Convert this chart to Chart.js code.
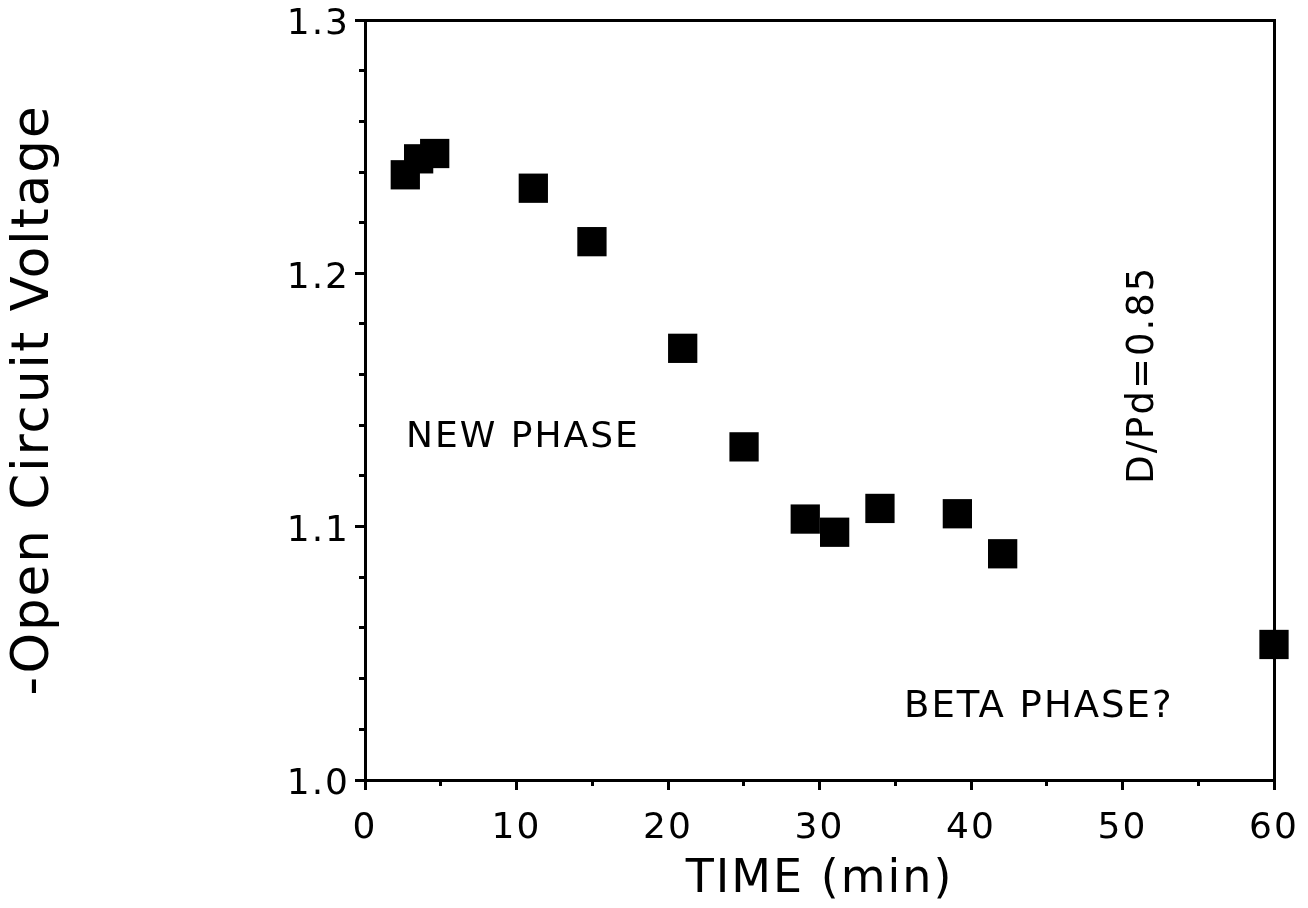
<!DOCTYPE html>
<html><head><meta charset="utf-8">
<script src="https://cdn.jsdelivr.net/npm/chart.js@4.4.1/dist/chart.umd.min.js"></script>
<style>html,body{margin:0;padding:0;background:#fff;overflow:hidden}</style>
</head><body>
<canvas id="c" width="1308" height="908"></canvas>
<script>
// ---- data ----
const timeMin = [2.66, 3.54, 4.60, 11.11, 14.98, 20.97, 25.02, 29.06, 31.0, 33.99, 39.1, 42.09, 60];
const voltage = [1.2389, 1.2452, 1.2473, 1.2336, 1.2125, 1.1704, 1.1315, 1.1030, 1.0978, 1.1072, 1.1051, 1.0893, 1.0535];
const xTickStep = 10, xMinorStep = 5;
const yTickStep = 0.1, yMinorStep = 0.02;
const xRange = [0, 60];
const yRange = [1.0, 1.3];
const xTitle = 'TIME (min)';
const yTitle = '-Open Circuit Voltage';
const noteTexts = ['NEW PHASE', 'BETA PHASE?', 'D/Pd=0.85'];
const noteX = [2.71, 35.58, 52.0];
const noteY = [1.1315, 1.0248, 1.1169];
const noteRotation = [0, 0, -90];

const FONT = 'DejaVu Sans';
Chart.defaults.font.family = FONT;
Chart.defaults.color = '#000';

const spacingPlugin = {
  id: 'spacing',
  beforeLayout(chart) { try { chart.ctx.letterSpacing = '2px'; } catch (e) {} },
  beforeDraw(chart) { try { chart.ctx.letterSpacing = '2px'; } catch (e) {} }
};

const notesPlugin = {
  id: 'notes',
  afterDraw(chart) {
    const ctx = chart.ctx, xs = chart.scales.x, ys = chart.scales.y;
    ctx.save();
    try { ctx.letterSpacing = '2px'; } catch (e) {}
    ctx.fillStyle = '#000';
    ctx.textAlign = 'left';
    ctx.textBaseline = 'alphabetic';
    const sizes = [36, 37, 37];
    noteTexts.forEach((t, i) => {
      const px = xs.getPixelForValue(noteX[i]);
      const py = ys.getPixelForValue(noteY[i]);
      ctx.save();
      ctx.font = sizes[i] + 'px "' + FONT + '"';
      ctx.translate(px, py);
      ctx.rotate(noteRotation[i] * Math.PI / 180);
      ctx.fillText(t, 0, 0);
      ctx.restore();
    });
    ctx.restore();
  }
};

const zeroPad = s => { s.paddingLeft = 0; s.paddingRight = 0; s.paddingTop = 0; s.paddingBottom = 0; };

const plainFrameAxis = (position, min, max, fitProp) => ({
  type: 'linear', position, min, max, weight: 0,
  ticks: { display: false },
  grid: { drawOnChartArea: false, drawTicks: false },
  border: { display: true, width: 3, color: '#000' },
  afterFit: s => { s[fitProp] = 0; zeroPad(s); }
});

new Chart(document.getElementById('c'), {
  type: 'scatter',
  data: {
    datasets: [{
      data: timeMin.map((t, i) => ({ x: t, y: voltage[i] })),
      pointStyle: 'rect',
      pointRadius: 20.7,
      pointHoverRadius: 20.7,
      backgroundColor: '#000',
      borderColor: '#000',
      borderWidth: 0,
      showLine: false,
      clip: false,
      xAxisID: 'x',
      yAxisID: 'y'
    }]
  },
  options: {
    responsive: false,
    animation: false,
    devicePixelRatio: 1,
    layout: { padding: { top: 20, right: 34, left: 0, bottom: 0 }, autoPadding: false },
    plugins: { legend: { display: false }, tooltip: { enabled: false } },
    scales: {
      x: {
        type: 'linear', position: 'bottom', min: xRange[0], max: xRange[1], weight: 1,
        ticks: { stepSize: xTickStep, font: { size: 36 }, color: '#000', padding: 17, maxRotation: 0, autoSkip: false },
        grid: { drawOnChartArea: false, drawTicks: true, tickLength: 10, tickWidth: 3, tickColor: '#000' },
        border: { display: true, width: 3, color: '#000' },
        title: { display: true, text: xTitle, font: { size: 46 }, color: '#000', padding: 0 },
        afterFit: s => { s.height = 128; zeroPad(s); }
      },
      xMinor: {
        type: 'linear', position: 'bottom', min: xRange[0], max: xRange[1], weight: 0,
        ticks: { display: false, stepSize: xMinorStep, autoSkip: false },
        grid: { drawOnChartArea: false, drawTicks: true, tickLength: 6, tickWidth: 3, tickColor: '#000' },
        border: { display: false },
        afterFit: s => { s.height = 0; zeroPad(s); }
      },
      y: {
        type: 'linear', position: 'left', min: yRange[0], max: yRange[1], weight: 1,
        ticks: { stepSize: yTickStep, font: { size: 36 }, color: '#000', padding: 5, labelOffset: 5, autoSkip: false,
          callback: v => v.toFixed(1) },
        grid: { drawOnChartArea: false, drawTicks: true, tickLength: 10, tickWidth: 3, tickColor: '#000' },
        border: { display: true, width: 3, color: '#000' },
        title: { display: true, text: yTitle, font: { size: 51.5 }, color: '#000', padding: { top: 4, bottom: 0 } },
        afterFit: s => { s.width = 365; zeroPad(s); }
      },
      yMinor: {
        type: 'linear', position: 'left', min: yRange[0], max: yRange[1], weight: 0,
        ticks: { display: false, stepSize: yMinorStep, autoSkip: false },
        grid: { drawOnChartArea: false, drawTicks: true, tickLength: 6, tickWidth: 3, tickColor: '#000' },
        border: { display: false },
        afterFit: s => { s.width = 0; zeroPad(s); }
      },
      xTop: plainFrameAxis('top', xRange[0], xRange[1], 'height'),
      yRight: plainFrameAxis('right', yRange[0], yRange[1], 'width')
    }
  },
  plugins: [spacingPlugin, notesPlugin]
});
</script>
</body></html>
